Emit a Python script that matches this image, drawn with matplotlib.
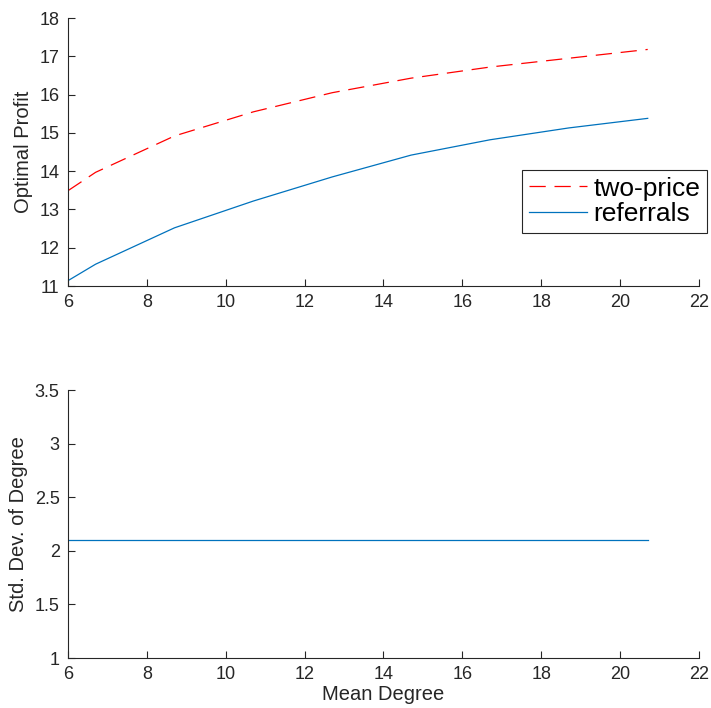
import matplotlib.pyplot as plt

# Data
mean_degree = [6.0, 6.7, 8.7, 10.7, 12.7, 14.7, 16.7, 18.7, 20.7]
profit_two_price = [13.49, 13.97, 14.92, 15.55, 16.05, 16.43, 16.72, 16.95, 17.18]
profit_referrals = [11.14, 11.57, 12.52, 13.22, 13.85, 14.42, 14.82, 15.13, 15.38]
std_degree = [2.1, 2.1, 2.1, 2.1, 2.1, 2.1, 2.1, 2.1, 2.1]

plt.rcParams['font.family'] = ['Liberation Sans', 'DejaVu Sans']
text_color = '#262626'
blue = '#0072BD'

fig = plt.figure(figsize=(7.11, 7.08), dpi=100)
ax1 = fig.add_axes([0.0956, 0.596, 0.8875, 0.3785])
ax2 = fig.add_axes([0.0956, 0.0706, 0.8875, 0.3785])

# Top panel: optimal profit
ax1.plot(mean_degree, profit_two_price, color='red', lw=0.9,
         linestyle=(0, (13, 7)), label='two-price')
ax1.plot(mean_degree, profit_referrals, color=blue, lw=0.9, label='referrals')
ax1.set_xlim(6, 22)
ax1.set_ylim(11, 18)
ax1.set_xticks(range(6, 23, 2))
ax1.set_yticks(range(11, 19))
ax1.set_ylabel('Optimal Profit', fontsize=14.5, color=text_color, labelpad=5)
leg = ax1.legend(loc='upper right', bbox_to_anchor=(1.013, 0.433),
                 borderaxespad=0, fontsize=19, handlelength=2.2,
                 handletextpad=0.27, labelspacing=0.05, borderpad=0.25,
                 fancybox=False, framealpha=1)
leg.get_frame().set_edgecolor('#262626')
leg.get_frame().set_linewidth(0.8)

# Bottom panel: std. dev. of degree
ax2.plot(mean_degree, std_degree, color=blue, lw=0.9)
ax2.set_xlim(6, 22)
ax2.set_ylim(1, 3.5)
ax2.set_xticks(range(6, 23, 2))
ax2.set_yticks([1, 1.5, 2, 2.5, 3, 3.5])
ax2.set_yticklabels(['1', '1.5', '2', '2.5', '3', '3.5'])
ax2.set_ylabel('Std. Dev. of Degree', fontsize=14.5, color=text_color, labelpad=5)
ax2.set_xlabel('Mean Degree', fontsize=14.5, color=text_color, labelpad=1)

# MATLAB-like axes: no box, inward ticks
for ax in (ax1, ax2):
    ax.spines['top'].set_visible(False)
    ax.spines['right'].set_visible(False)
    for s in ('left', 'bottom'):
        ax.spines[s].set_color(text_color)
        ax.spines[s].set_linewidth(0.8)
    ax.tick_params(direction='in', length=5, width=0.8, colors=text_color,
                   labelsize=13, pad=6)

fig.savefig('out.png', dpi=100)
